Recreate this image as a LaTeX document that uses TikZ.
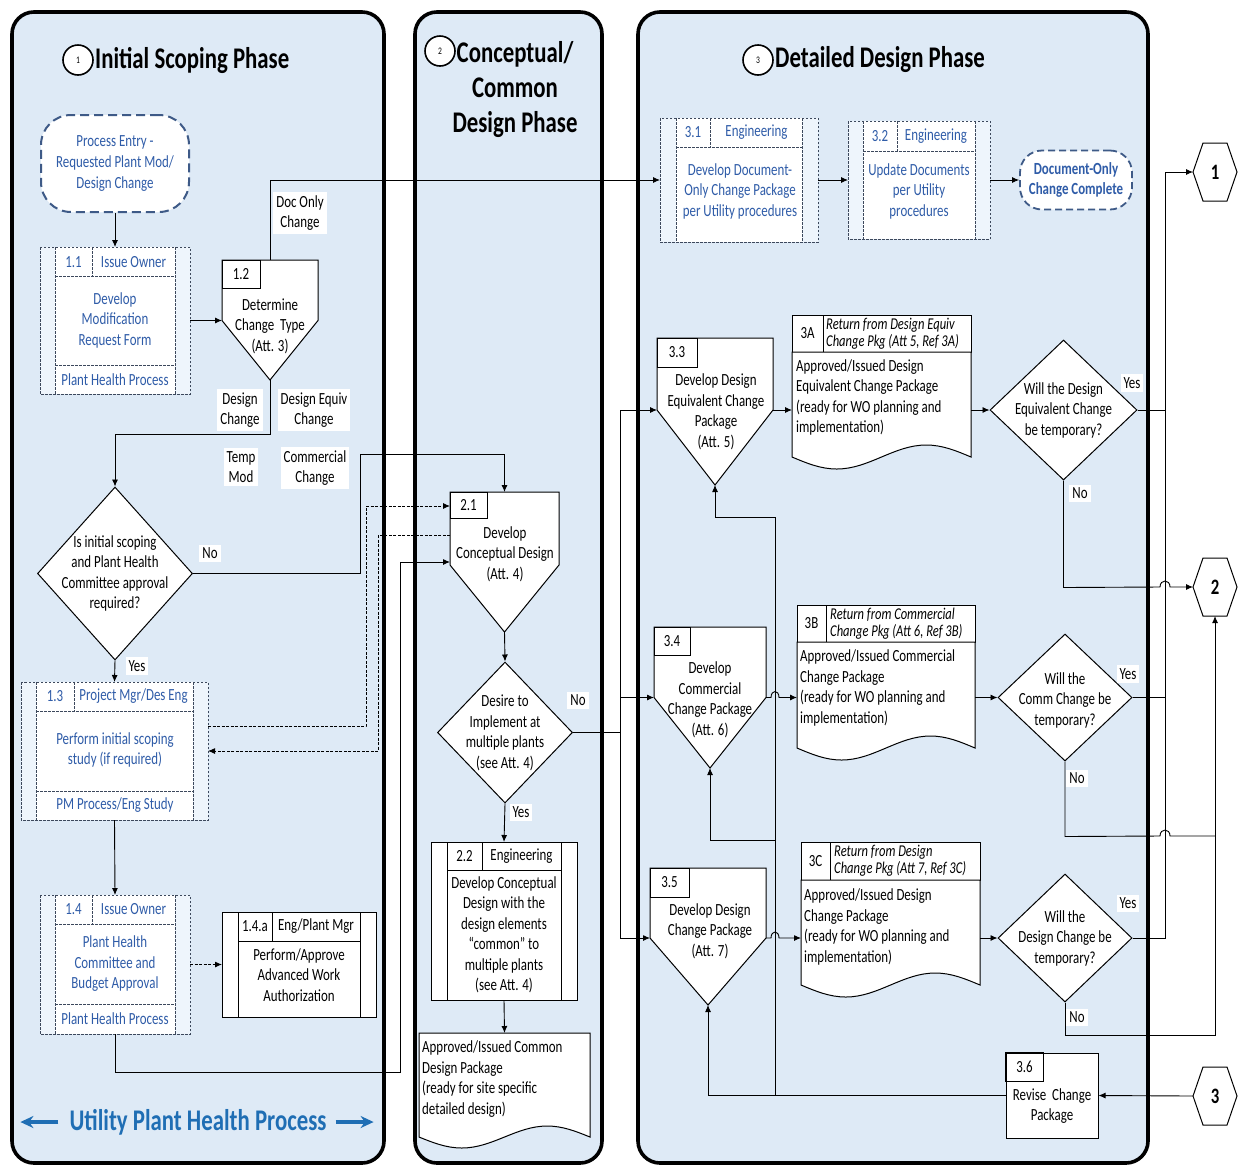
\documentclass[tikz,border=0pt]{standalone}
\usepackage{fontspec}
\setmainfont{Carlito}[FakeStretch=0.76]
\usetikzlibrary{arrows.meta,shapes.geometric,calc}

\definecolor{panelblue}{RGB}{222,234,246}
\definecolor{stepblue}{RGB}{47,92,168}
\definecolor{boxline}{RGB}{60,72,92}
\definecolor{termline}{RGB}{62,90,135}
\definecolor{titleblue}{RGB}{31,110,180}
\definecolor{striplight}{RGB}{238,245,252}

\newcommand\bodyfont{\fontsize{17}{20.5}\selectfont}
\newcommand\hdrfont{\fontsize{16.5}{17}\selectfont\itshape}
\newcommand\ttlfont{\fontsize{30}{35}\selectfont\bfseries}
\newcommand\numfont{\fontsize{10}{10}\selectfont}
\newcommand\hexfont{\fontsize{22}{22}\selectfont\bfseries}

% process box with side strips and a header row
% #1 name, #2 x1, #3 y1, #4 x2, #5 y2, #6 strip width, #7 header line y, #8 line style, #9 strip colour
\newcommand\lanebox[9]{%
  \fill[#9] (#2,#3) rectangle (#4,#5);
  \fill[white] ({#2+#6},#3) rectangle ({#4-#6},#5);
  \draw[#8] (#2,#3) rectangle (#4,#5);
  \draw[#8] ({#2+#6},#3) -- ({#2+#6},#5) ({#4-#6},#3) -- ({#4-#6},#5) ({#2+#6},#7) -- ({#4-#6},#7);
  \node[inner sep=0pt, outer sep=0pt, minimum width={(#4-#2)*1pt}, minimum height={(#5-#3)*1pt}] (#1) at ({(#2+#4)/2},{(#3+#5)/2}) {};
}

% off-page style pentagon with a number box in its corner
% #1 name, #2 x1, #3 top, #4 x2, #5 side end, #6 point y, #7 number box right, #8 number box bottom
\newcommand\pent[8]{%
  \draw[sline, fill=white] (#2,#3) -- (#4,#3) -- (#4,#5) -- ({(#2+#4)/2},#6) -- (#2,#5) -- cycle;
  \draw[sline] (#2,#3) rectangle (#7,#8);
  \coordinate (#1-t) at ({(#2+#4)/2},#3);
  \coordinate (#1-l) at (#2,#5);
  \coordinate (#1-r) at (#4,#5);
  \coordinate (#1-p) at ({(#2+#4)/2},#6);
}

% document shape with a wavy lower edge
% #1 name, #2 x1, #3 top, #4 x2, #5 base of wave, #6 amplitude
\newcommand\docshape[6]{%
  \draw[sline, fill=white] (#2,#3) -- (#4,#3) -- (#4,#5)
     sin ({#4-(#4-#2)/4},{#5-#6}) cos ({(#2+#4)/2},#5)
     sin ({#2+(#4-#2)/4},{#5+#6}) cos (#2,#5) -- cycle;
  \coordinate (#1-nw) at (#2,#3);
  \coordinate (#1-ne) at (#4,#3);
  \coordinate (#1-n) at ({(#2+#4)/2},#3);
}

% hexagonal page connector
\newcommand\hexa[4]{%
  \draw[sline, fill=white] ({#2-22},#3) -- ({#2-12},{#3-29}) -- ({#2+12},{#3-29}) -- ({#2+22},#3) -- ({#2+12},{#3+29}) -- ({#2-12},{#3+29}) -- cycle;
  \node[font=\hexfont, inner sep=0pt] (#1) at (#2,#3) {#4};
  \coordinate (#1-w) at ({#2-22},#3);
  \coordinate (#1-s) at (#2,{#3+29});
}

\tikzset{
  panel/.style={draw=black, line width=3.6pt, rounded corners=22pt, fill=panelblue},
  conn/.style={draw=black, line width=0.9pt},
  arr/.style={conn, -{Latex[length=7pt,width=6pt]}},
  dconn/.style={conn, dash pattern=on 3pt off 1.5pt},
  darr/.style={dconn, -{Latex[length=7pt,width=6pt]}},
  txt/.style={font=\bodyfont, align=center, inner sep=0pt},
  btxt/.style={txt, text=stepblue},
  ltxt/.style={font=\bodyfont, align=left, inner sep=0pt, anchor=west},
  htxt/.style={font=\hdrfont, align=left, inner sep=0pt, anchor=west},
  tag/.style={font=\bodyfont, fill=white, inner sep=3pt, align=center},
  dline/.style={draw=boxline, line width=0.8pt, dash pattern=on 2.5pt off 1.5pt},
  sline/.style={draw=black, line width=1pt},
  dia/.style={diamond, draw=black, line width=1pt, fill=white, inner sep=0pt},
  termbox/.style={draw=termline, line width=2pt, dash pattern=on 9pt off 5pt, fill=white, inner sep=0pt, font=\bodyfont, align=center, text=stepblue},
  numc/.style={circle, draw=black, line width=1.6pt, minimum size=30pt, inner sep=0pt, fill=white, font=\numfont},
  bigarr/.style={draw=titleblue, line width=3.5pt, -{Stealth[length=13pt,width=12pt]}},
}

\begin{document}
\begin{tikzpicture}[x=1pt, y=-1pt]
\useasboundingbox[fill=white] (0,0) rectangle (1238,1168);

% swimlane panels
\draw[panel] (12,12) rectangle (384,1163);
\draw[panel] (415,12) rectangle (602,1163);
\draw[panel] (638,12) rectangle (1148,1163);

% phase titles
\node[numc] (n1) at (78,60) {1};
\node[font=\ttlfont, anchor=west, inner sep=0pt] (t1) at (95,60) {Initial Scoping Phase};
\node[numc] (n2) at (440,51) {2};
\node[font=\ttlfont, align=center, inner sep=0pt] (t2) at (515,90) {Conceptual/\\Common\\Design Phase};
\node[numc] (n3) at (758,60) {3};
\node[font=\ttlfont, anchor=west, inner sep=0pt] (t3) at (775,60) {Detailed Design Phase};

% ---------- phase 1 ----------
\node[termbox, minimum width=148pt, minimum height=97pt, rounded corners=30pt] (entry) at (115,163.5)
  {Process Entry -\\Requested Plant Mod/\\Design Change};

\lanebox{b11}{40}{247}{190}{394}{15}{276}{dline}{striplight}
\draw[dline] (92,247) -- (92,276) (55,365) -- (175,365);
\node[btxt] (b11n) at (73.5,262) {1.1};
\node[btxt] (b11r) at (133.5,262) {Issue Owner};
\node[btxt] (b11x) at (115,320) {Develop\\Modification\\Request Form};
\node[btxt] (b11f) at (115,380) {Plant Health Process};

\pent{p12}{222}{260}{318}{320.5}{380}{260}{288}
\node[txt] (p12n) at (241,274) {1.2};
\node[txt] (p12x) at (270,326) {Determine\\Change\ \ Type\\(Att. 3)};

\node[dia, minimum width=155pt, minimum height=173pt] (d1) at (115,573.5) {};
\node[txt] (d1x) at (115,573.5) {Is initial scoping\\and Plant Health\\Committee approval\\required?};

\lanebox{b13}{21}{682}{208}{820}{15}{711}{dline}{striplight}
\draw[dline] (74,682) -- (74,711) (36,791) -- (193,791);
\node[btxt] (b13n) at (55,696.5) {1.3};
\node[btxt] (b13r) at (133.5,696.5) {Project Mgr/Des Eng};
\node[btxt] (b13x) at (115,750) {Perform initial scoping\\study (if required)};
\node[btxt] (b13f) at (115,805.5) {PM Process/Eng Study};

\lanebox{b14}{40}{895}{190}{1034}{15}{924}{dline}{striplight}
\draw[dline] (92,895) -- (92,924) (55,1004) -- (175,1004);
\node[btxt] (b14n) at (73.5,909.5) {1.4};
\node[btxt] (b14r) at (133.5,909.5) {Issue Owner};
\node[btxt] (b14x) at (115,964) {Plant Health\\Committee and\\Budget Approval};
\node[btxt] (b14f) at (115,1019) {Plant Health Process};

\lanebox{b14a}{222}{912}{376}{1017}{16}{941}{sline}{white}
\draw[sline] (272,912) -- (272,941);
\node[txt] (b14an) at (255,926.5) {1.4.a};
\node[txt] (b14ar) at (316,926.5) {Eng/Plant Mgr};
\node[txt] (b14ax) at (299,975) {Perform/Approve\\Advanced Work\\Authorization};

\node[font=\ttlfont, text=titleblue, inner sep=0pt] (uphp) at (198,1122) {Utility Plant Health Process};
\draw[bigarr] ([xshift=-11pt]uphp.west) -- ++(-38,0);
\draw[bigarr] ([xshift=9pt]uphp.east) -- ++(38,0);

% ---------- phase 2 ----------
\pent{p21}{450}{492}{559}{565}{632}{487}{518}
\coordinate (p21-in1) at (450,506);
\coordinate (p21-in2) at (450,535);
\coordinate (p21-in3) at (450,562);
\node[txt] (p21n) at (468.5,505) {2.1};
\node[txt] (p21x) at (505,554) {Develop\\Conceptual Design\\(Att. 4)};

\node[dia, minimum width=135pt, minimum height=141pt] (d2) at (505,732.5) {};
\node[txt] (d2x) at (505,733) {Desire to\\Implement at\\multiple plants\\(see Att. 4)};

\lanebox{b22}{431}{842}{577}{1000}{16}{870}{sline}{white}
\draw[sline] (482,842) -- (482,870);
\node[txt] (b22n) at (464.5,856) {2.2};
\node[txt] (b22r) at (521.5,856) {Engineering};
\node[txt] (b22x) at (504,935) {Develop Conceptual\\Design with the\\design elements\\``common'' to\\multiple plants\\(see Att. 4)};

\docshape{doc2}{419}{1033}{590}{1137}{11}
\node[ltxt] (doc2x) at (422,1079) {Approved/Issued Common\\Design Package\\(ready for site specific\\detailed design)};

% ---------- phase 3 ----------
\lanebox{b31}{660}{118}{818}{242}{16}{147}{dline}{striplight}
\draw[dline] (710,118) -- (710,147);
\node[btxt] (b31n) at (693,132.5) {3.1};
\node[btxt] (b31r) at (756.5,132.5) {Engineering};
\node[btxt] (b31x) at (740,191) {Develop Document-\\Only Change Package\\per Utility procedures};

\lanebox{b32}{848}{121}{990}{239}{15}{151}{dline}{striplight}
\draw[dline] (897,121) -- (897,151);
\node[btxt] (b32n) at (880,136) {3.2};
\node[btxt] (b32r) at (936,136) {Engineering};
\node[btxt] (b32x) at (919,191) {Update Documents\\per Utility\\procedures};

\node[termbox, line width=1.8pt, dash pattern=on 7pt off 4pt, minimum width=112pt, minimum height=59pt, rounded corners=22pt, font=\bodyfont\bfseries] (term) at (1076,180) {Document-Only\\Change Complete};

% 3.3 and its package
\pent{p33}{657}{338}{773}{410}{485}{697}{367}
\node[txt] (p33n) at (677,352.5) {3.3};
\node[txt] (p33x) at (716,412) {Develop Design\\Equivalent Change\\Package\\(Att. 5)};

\draw[sline, fill=white] (792,315) rectangle (971,352);
\draw[sline] (823,315) -- (823,352);
\node[txt] (hAn) at (807.5,333.5) {3A};
\node[htxt] (hAx) at (826,333.5) {Return from Design Equiv\\Change Pkg (Att 5, Ref 3A)};
\docshape{docA}{792}{352}{971}{457}{12}
\node[ltxt] (docAx) at (796,397.5) {Approved/Issued Design\\Equivalent Change Package\\(ready for WO planning and\\implementation)};

\node[dia, minimum width=147pt, minimum height=140pt] (d3) at (1063.5,410) {};
\node[txt] (d3x) at (1063.5,410) {Will the Design\\Equivalent Change\\be temporary?};

% 3.4 and its package
\pent{p34}{654}{627}{766}{697.5}{768}{690}{655}
\node[txt] (p34n) at (672,641) {3.4};
\node[txt] (p34x) at (710,700) {Develop\\Commercial\\Change Package\\(Att. 6)};

\draw[sline, fill=white] (797,605) rectangle (975,642);
\draw[sline] (826,605) -- (826,642);
\node[txt] (hBn) at (811.5,623.5) {3B};
\node[htxt] (hBx) at (830,623.5) {Return from Commercial\\Change Pkg (Att 6, Ref 3B)};
\docshape{docB}{797}{642}{975}{748}{12}
\node[ltxt] (docBx) at (800,688) {Approved/Issued Commercial\\Change Package\\(ready for WO planning and\\implementation)};

\node[dia, minimum width=134pt, minimum height=127pt] (d4) at (1065,697.5) {};
\node[txt] (d4x) at (1065,700) {Will the\\Comm Change be\\temporary?};

% 3.5 and its package
\pent{p35}{650}{868}{766}{938}{1005}{689}{897}
\node[txt] (p35n) at (669.5,882.5) {3.5};
\node[txt] (p35x) at (710,931) {Develop Design\\Change Package\\(Att. 7)};

\draw[sline, fill=white] (801,842) rectangle (980,880);
\draw[sline] (830,842) -- (830,880);
\node[txt] (hCn) at (815.5,861) {3C};
\node[htxt] (hCx) at (834,861) {Return from Design\\Change Pkg (Att 7, Ref 3C)};
\docshape{docC}{801}{880}{980}{985}{12}
\node[ltxt] (docCx) at (804,927) {Approved/Issued Design\\Change Package\\(ready for WO planning and\\implementation)};

\node[dia, minimum width=134pt, minimum height=128pt] (d5) at (1065,938) {};
\node[txt] (d5x) at (1065,938) {Will the\\Design Change be\\temporary?};

% 3.6
\node[draw=black, line width=1pt, fill=white, inner sep=0pt, minimum width=92pt, minimum height=85pt] (b36) at (1052,1095.5) {};
\draw[sline] (b36.north west) rectangle (1043,1081);
\node[txt] (b36n) at (1024.5,1067) {3.6};
\node[txt] (b36x) at (1052,1106) {Revise\ \ Change\\Package};

% page connectors
\hexa{h1}{1215}{172}{1}
\hexa{h2}{1215}{587}{2}
\hexa{h3}{1215}{1096}{3}

% ---------- connectors ----------
\draw[arr] (entry.south) -- (b11.north);
\draw[arr] (b11.east) -- (p12-l);
\draw[arr] (p12-t) |- (b31.west);
\draw[arr] (p12-p) -- ++(0,54) -| (d1.north);
\draw[arr] (d1.east) -- ++(167,0) -- ++(0,-119.5) -| (p21-t);
\draw[arr] (d1.south) -- (b13.north);
\draw[darr] ([yshift=25pt]b13.east) -- ++(158,0) |- (p21-in1);
\draw[darr] (p21-in2) -- ++(-72,0) |- (b13.east);
\draw[arr] (b13.south) -- (b14.north);
\draw[darr] (b14.east) -- (b14a.west);
\draw[arr] (b14.south) -- ++(0,38) -- ++(285,0) |- (p21-in3);

\draw[arr] (p21-p) -- (d2.north);
\draw[arr] (d2.south) -- (b22.north);
\draw[arr] (b22.south) -- (doc2-n);
\coordinate (bus) at (620,732.5);
\draw[conn] (d2.east) -- (bus);
\draw[arr] (bus) |- (p33-l);
\draw[arr] (bus) |- (p34-l);
\draw[arr] (bus) |- (p35-l);

\draw[arr] (b31.east) -- (b32.west);
\draw[arr] (b32.east) -- (term.west);

\draw[arr] (p33-r) -- (p33-r -| docA-nw);
\draw[arr] (p33-r -| docA-ne) -- (d3.west);
\draw[arr] (p34-r) -- (771,697.5) .. controls (771,689.5) and (779,689.5) .. (779,697.5) -- (p34-r -| docB-nw);
\draw[arr] (p34-r -| docB-ne) -- (d4.west);
\draw[arr] (p35-r) -- (771,938) .. controls (771,930) and (779,930) .. (779,938) -- (p35-r -| docC-nw);
\draw[arr] (p35-r -| docC-ne) -- (d5.west);

% "yes" branches to connector 1
\coordinate (ybus) at (1165,172);
\draw[conn] (d3.east) -- (d3.east -| ybus);
\draw[conn] (d4.east) -- (d4.east -| ybus);
\draw[arr] (d5.east) -| (ybus) -- (h1-w);

% "no" branches to connector 2
\draw[arr] (d3.south) -- ++(0,107) -- (1160,587) .. controls (1160,579) and (1170,579) .. (1170,587) -- (h2-w);
\coordinate (nj) at (1215,836);
\draw[conn] (d4.south) -- ++(0,75) -- (1160,836) .. controls (1160,828) and (1170,828) .. (1170,836) -- (nj);
\draw[arr] (d5.south) -- ++(0,33) -| (h2-s);

% revision loop
\draw[arr] (h3-w) -- (b36.east);
\draw[arr] (b36.west) -| (p35-p);
\coordinate (rj) at (775,1095.5);
\coordinate (rk) at (775,840);
\draw[arr] (rj) -- ++(0,-578) -| (p33-p);
\draw[arr] (rk) -| (p34-p);

% branch labels
\node[tag] (lDoc) at (300,213) {Doc Only\\Change};
\node[tag] (lDes) at (240,410) {Design\\Change};
\node[tag] (lEqv) at (314,410) {Design Equiv\\Change};
\node[tag] (lTmp) at (241,467) {Temp\\Mod};
\node[tag] (lCom) at (315,468) {Commercial\\Change};
\node[tag] (lNo1) at (210,553) {No};
\node[tag] (lYe1) at (137,666) {Yes};
\node[tag] (lNo2) at (578,700) {No};
\node[tag] (lYe2) at (521,812) {Yes};
\node[tag] (lYe3) at (1132,383) {Yes};
\node[tag] (lNo3) at (1080,493) {No};
\node[tag] (lYe4) at (1128,674) {Yes};
\node[tag] (lNo4) at (1077,778) {No};
\node[tag] (lYe5) at (1128,903) {Yes};
\node[tag] (lNo5) at (1077,1017) {No};
\end{tikzpicture}
\end{document}
